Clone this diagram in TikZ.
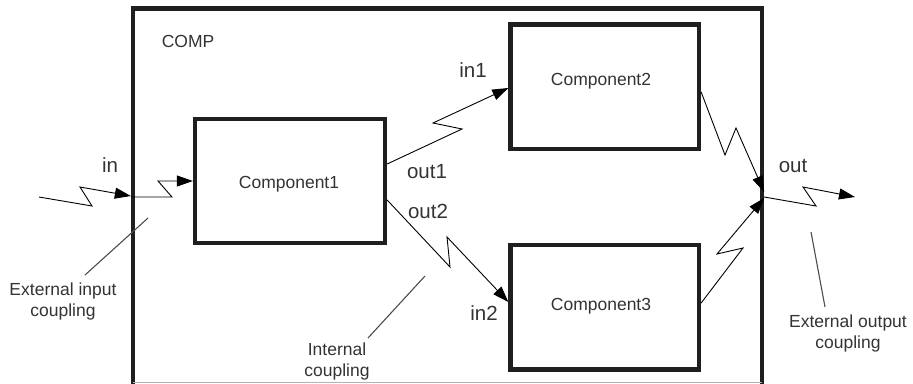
\documentclass[tikz,border=0pt]{standalone}
\usepackage{fontspec}
\setmainfont{Liberation Sans}
\usetikzlibrary{arrows.meta}
\begin{document}
\begin{tikzpicture}[x=1pt,y=-1pt,
  box/.style={draw=black!88, line width=4.3pt, rectangle, inner sep=0pt},
  conn/.style={draw=black, line width=0.9pt, line join=miter},
  arr/.style={conn, -{Triangle[length=16pt,width=11pt]}},
  lead/.style={draw=black!70, line width=1.1pt},
  lbl/.style={text=black!80, inner sep=0pt, anchor=base, font=\fontsize{17.5}{21}\selectfont},
  port/.style={lbl, font=\fontsize{20.5}{24}\selectfont},
  note/.style={lbl, align=center}]
\useasboundingbox (0,0) rectangle (913,383);

% coupled model frame, cut off at the bottom edge
\begin{scope}
  \clip (0,0) rectangle (913,383);
  \node[box, minimum width=629pt, minimum height=383.5pt] (comp) at (447.5,200.25) {};
\end{scope}
\draw[black!30, line width=1.2pt] (133,382.5) -- (762,382.5);

% atomic components
\node[box, minimum width=190pt, minimum height=124pt] (c1) at (290,181) {};
\node[box, minimum width=188.5pt, minimum height=124.5pt] (c2) at (604.75,86.75) {};
\node[box, minimum width=188.5pt, minimum height=124.5pt] (c3) at (604.75,307.25) {};

\node[lbl] (t1) at (289,188) {Component1};
\node[lbl] (t2) at (601,85) {Component2};
\node[lbl] (t3) at (601,310) {Component3};
\node[lbl] (tcomp) at (188,47) {COMP};

% ports
\coordinate (src) at (39,197);
\coordinate (sink) at (855,197);
\coordinate (pin) at (comp.west |- 0,196);
\coordinate (pout) at (comp.east |- 0,197);
\coordinate (c1in) at (c1.west |- 0,181);
\coordinate (c1out1) at (c1.east |- 0,164);
\coordinate (c1out2) at (c1.east |- 0,200);
\coordinate (c2in) at (c2.west |- 0,88);
\coordinate (c2out) at (c2.east |- 0,92);
\coordinate (c3in) at (c3.west |- 0,302);
\coordinate (c3out) at (c3.east |- 0,303);

% external input coupling
\draw[arr] (src) -- (92,206) -- (80,187) -- (pin);
\draw[arr] (pin |- 0,197) -- (172,197) -- (158,181) -- (c1in);
% internal couplings
\draw[arr] (c1out1) -- (462,129) -- (433,123) -- (c2in);
\draw[arr] (c1out2) -- (450,267) -- (447,237) -- (c3in);
\draw[arr] (c2out) -- (725,155) -- (736,128) -- (pout |- 0,192);
\draw[arr] (c3out) -- (743,248) -- (717,254) -- (pout |- 0,198);
% external output coupling
\draw[arr] (pout) -- (816,206) -- (803,187) -- (sink);

% port labels
\node[port] (lin) at (110,172) {in};
\node[port] (lin1) at (473,77) {in1};
\node[port] (lout1) at (427,178) {out1};
\node[port] (lout2) at (428,218) {out2};
\node[port] (lin2) at (484,320) {in2};
\node[port] (lout) at (793,172) {out};

% annotations (anchored on the baseline of their last line)
\node[note] (neic) at (63,316) {External input\\coupling};
\node[note] (nic) at (337,376) {Internal\\coupling};
\node[note] (neoc) at (848,348) {External output\\coupling};
\coordinate (aeic) at (148,218);
\coordinate (aic) at (425,276);
\coordinate (aeoc) at (811,232);
\draw[lead] (aeic) -- (85,275);
\draw[lead] (aic) -- (368,338);
\draw[lead] (aeoc) -- (825,307);
\end{tikzpicture}
\end{document}
